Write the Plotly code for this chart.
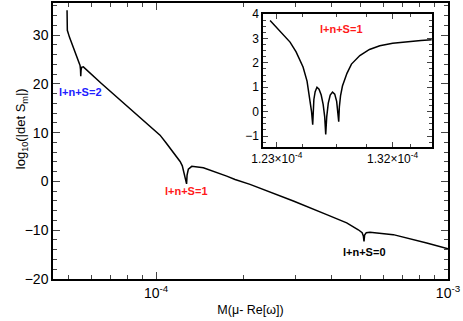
import math
import plotly.graph_objects as go

# main curve: M(mu - Re[omega]) vs log10(|det S_m|)
main_x = [4.956e-5, 4.967e-5, 5.05e-5, 5.143e-5, 5.25e-5, 5.35e-5, 5.45e-5, 5.491e-5,
          5.51e-5, 5.522e-5, 5.535e-5, 5.56e-5, 5.636e-5, 6.5e-5, 7.5e-5, 8.5e-5,
          9.5e-5, 1.032e-4, 1.08e-4, 1.1166e-4, 1.16e-4, 1.2086e-4, 1.23e-4, 1.2404e-4,
          1.252e-4, 1.258e-4, 1.268e-4, 1.2722e-4, 1.277e-4, 1.290e-4, 1.3254e-4, 1.4521e-4,
          1.746e-4, 1.8646e-4, 2.098e-4, 2.953e-4, 3.842e-4, 4.498e-4, 4.929e-4,
          5.08e-4, 5.13e-4, 5.156e-4, 5.18e-4, 5.25e-4, 5.404e-4, 6.496e-4,
          8.455e-4, 1.0e-3]
main_y = [35.1, 31.0, 29.6, 28.3, 26.8, 25.5, 24.3, 23.8,
          23.0, 21.6, 22.8, 23.4, 23.5, 20.1, 16.8, 13.9,
          11.4, 9.5, 8.0, 6.8, 5.5, 4.1, 3.2, 2.4,
          1.5, 1.0, 0.2, -0.5, 1.3, 2.5, 3.1, 2.8,
          1.1, 0.4, -0.6, -4.0, -6.8, -8.5, -9.9,
          -10.5, -11.2, -12.3, -11.0, -10.5, -10.4, -10.9,
          -12.6, -13.8]

# inset: zoom on the l+n+S=1 resonance
inset_x = [1.2248e-4, 1.2300e-4, 1.2350e-4, 1.2403e-4, 1.2450e-4, 1.2504e-4, 1.2535e-4,
           1.2558e-4, 1.2570e-4, 1.2579e-4, 1.2582e-4, 1.2588e-4, 1.2598e-4, 1.2612e-4,
           1.2628e-4, 1.2645e-4, 1.2660e-4, 1.2672e-4, 1.2680e-4, 1.2688e-4, 1.2700e-4,
           1.2715e-4, 1.2733e-4, 1.2750e-4, 1.2765e-4, 1.2775e-4, 1.2781e-4, 1.2786e-4,
           1.2795e-4, 1.2810e-4, 1.2830e-4, 1.2845e-4, 1.2880e-4, 1.2945e-4, 1.3020e-4,
           1.3100e-4, 1.3200e-4, 1.3310e-4, 1.3420e-4, 1.3504e-4]
inset_y = [3.74, 3.45, 3.15, 2.85, 2.45, 1.83, 1.25,
           0.5, 0.0, -0.53, 0.0, 0.5, 0.82, 1.0,
           0.92, 0.68, 0.3, -0.2, -0.93, -0.2, 0.35,
           0.68, 0.80, 0.72, 0.42, 0.0, -0.41, 0.2,
           0.65, 1.05, 1.40, 1.57, 1.95, 2.30, 2.55,
           2.70, 2.80, 2.87, 2.92, 2.95]

labels = ["l+n+S=2", "l+n+S=1", "l+n+S=0"]
label_x = [5.52e-5, 1.272e-4, 5.16e-4]
label_y = [18.4, -2.0, -14.5]
label_colors = ["#2020ff", "#ff1a1a", "#000000"]

FONT = "Liberation Sans, Arial, sans-serif"

fig = go.Figure()

fig.add_trace(go.Scatter(x=main_x, y=main_y, mode="lines",
                         line=dict(color="black", width=1.5),
                         xaxis="x", yaxis="y", showlegend=False))
fig.add_trace(go.Scatter(x=inset_x, y=inset_y, mode="lines",
                         line=dict(color="black", width=1.5),
                         xaxis="x2", yaxis="y2", showlegend=False))

# annotations on a log axis take log10 coordinates
for txt, lx, ly, col in zip(labels, label_x, label_y, label_colors):
    fig.add_annotation(x=math.log10(lx), y=ly, xref="x", yref="y", text="<b>%s</b>" % txt,
                       showarrow=False, font=dict(size=11, color=col, family=FONT))

fig.add_annotation(x=1.2800e-4, y=3.4, xref="x2", yref="y2",
                   text="<b>l+n+S=1</b>", showarrow=False,
                   font=dict(size=11, color="#ff1a1a", family=FONT))

# y title as an annotation so it can sit a bit above the axis middle, like the original
fig.add_annotation(x=-0.106, y=0.545, xref="paper", yref="paper", textangle=-90,
                   text="log<sub>10</sub>(|det S<sub>m</sub>|)", showarrow=False,
                   font=dict(size=13, color="black", family=FONT))

minor_log = [k * 10 ** e for e in (-5, -4) for k in range(2, 10)]

fig.update_layout(
    width=463, height=321,
    margin=dict(l=53, r=15, t=3, b=42),
    plot_bgcolor="white", paper_bgcolor="white",
    font=dict(family=FONT, size=14, color="black"),
    xaxis=dict(
        type="log", range=[-4.353, -3.0], automargin=False,
        tickvals=[1e-4, 1e-3],
        ticktext=["10<sup>-4</sup>", "10<sup>-3</sup>"],
        ticks="inside", ticklen=7, tickwidth=1,
        minor=dict(tickvals=minor_log, ticks="inside", ticklen=4, showgrid=False),
        showline=True, linecolor="black", linewidth=1.5, mirror="ticks",
        showgrid=False, zeroline=False,
        title=dict(text="M(μ- Re[ω])", font=dict(size=12.5), standoff=6),
    ),
    yaxis=dict(
        range=[-20, 36.6], tickvals=[-20, -10, 0, 10, 20, 30], automargin=False,
        ticks="inside", ticklen=7, tickwidth=1,
        minor=dict(dtick=2, ticks="inside", ticklen=4, showgrid=False),
        showline=True, linecolor="black", linewidth=1.5, mirror="ticks",
        showgrid=False, zeroline=False,
    ),
    xaxis2=dict(
        domain=[0.532, 0.959], anchor="y2", automargin=False,
        range=[1.2194e-4, 1.3504e-4],
        tickvals=[1.23e-4, 1.32e-4],
        ticktext=["1.23×10<sup>-4</sup>", "1.32×10<sup>-4</sup>"],
        ticks="inside", ticklen=5, tickwidth=1,
        minor=dict(tickvals=[1.25e-4, 1.276e-4, 1.3e-4, 1.334e-4], ticks="inside",
                   ticklen=3, showgrid=False),
        showline=True, linecolor="black", linewidth=1.5, mirror="ticks",
        showgrid=False, zeroline=False, tickfont=dict(size=12),
    ),
    yaxis2=dict(
        domain=[0.478, 0.960], anchor="x2", automargin=False,
        range=[-1.45, 4.0], tickvals=[-1, 0, 1, 2, 3, 4],
        ticks="inside", ticklen=5, tickwidth=1,
        minor=dict(dtick=0.25, ticks="inside", ticklen=3, showgrid=False),
        showline=True, linecolor="black", linewidth=1.5, mirror="ticks",
        showgrid=False, zeroline=False, tickfont=dict(size=12),
    ),
)

# drop the browser's default body margin so the figure sits at the page corner
fig.write_html("out.html", config={"displayModeBar": False},
               post_script="document.body.style.margin='0';")
